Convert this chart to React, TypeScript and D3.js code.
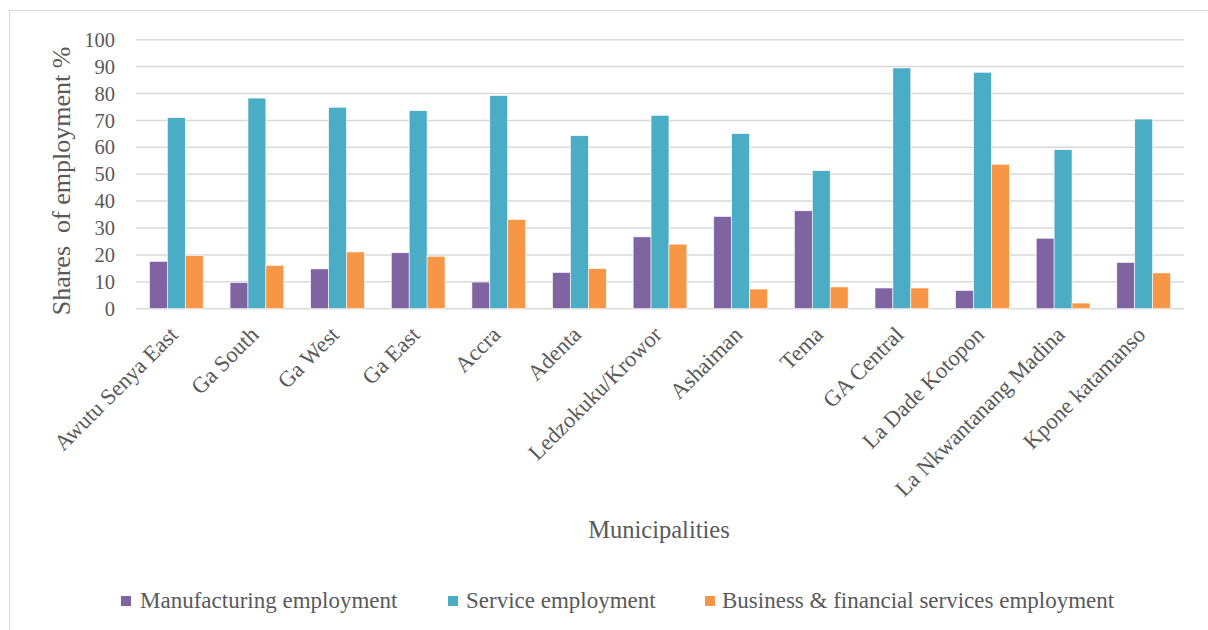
import React from "react";
import * as d3 from "d3";

const categories = [
  "Awutu Senya East", "Ga South", "Ga West", "Ga East", "Accra", "Adenta",
  "Ledzokuku/Krowor", "Ashaiman", "Tema", "GA Central", "La Dade Kotopon",
  "La Nkwantanang Madina", "Kpone katamanso",
];
const seriesNames = [
  "Manufacturing employment",
  "Service employment",
  "Business & financial services employment",
];
const manufacturing = [17.6, 9.7, 14.8, 20.8, 9.9, 13.5, 26.7, 34.3, 36.4, 7.7, 6.8, 26.2, 17.2];
const service = [71.0, 78.3, 74.9, 73.6, 79.2, 64.3, 71.9, 65.1, 51.3, 89.5, 87.9, 59.1, 70.5];
const business = [19.7, 16.1, 21.1, 19.5, 33.2, 14.9, 24.0, 7.3, 8.1, 7.7, 53.7, 2.1, 13.3];
const yTicks = [0, 10, 20, 30, 40, 50, 60, 70, 80, 90, 100];
const colors = ["#8064A2", "#4BACC6", "#F79646"];

const W = 1208, H = 630;
const M = { left: 136, right: 1184, top: 39.7, bottom: 308.7 };
const FONT = "Liberation Serif, DejaVu Serif, serif";
const TXT = "#595959";

export default function App() {
  const series = [manufacturing, service, business];
  const x = d3.scaleBand<string>().domain(categories).range([M.left, M.right]).padding(0);
  const groupW = x.bandwidth() / 1.5;
  const xi = d3.scaleBand<number>().domain([0, 1, 2]).range([0, groupW]).padding(0);
  const y = d3.scaleLinear().domain([0, 100]).range([M.bottom, M.top]);

  const legendItems = [
    { sq: 121, tx: 140 },
    { sq: 448, tx: 466 },
    { sq: 705, tx: 722 },
  ];

  return (
    <svg width={W} height={H} style={{ position: "absolute", left: 0, top: 0, background: "#fff", fontFamily: FONT }}>
      <rect x={0} y={0} width={W} height={H} fill="#fff" />
      <rect x={9.5} y={10.5} width={1300} height={800} fill="none" stroke="#D9D9D9" strokeWidth={1} />
      {yTicks.map((t) => (
        <g key={t}>
          <line x1={M.left} x2={M.right} y1={y(t)} y2={y(t)} stroke="#D9D9D9" strokeWidth={1.5} />
          <text x={115} y={y(t)} dy="0.35em" textAnchor="end" fontSize={20.5} fill={TXT}>{t}</text>
        </g>
      ))}
      {categories.map((c, i) => {
        const gx = (x(c) as number) + (x.bandwidth() - groupW) / 2;
        return (
          <g key={c}>
            {series.map((s, k) => (
              <rect key={k} x={gx + (xi(k) as number)} y={y(s[i])} width={xi.bandwidth()}
                height={y(0) - y(s[i])} fill={colors[k]} stroke="#fff" strokeWidth={0.6} />
            ))}
          </g>
        );
      })}
      {categories.map((c) => {
        const cx = (x(c) as number) + x.bandwidth() / 2;
        const tx = cx + 3;
        const ty = 336;
        return (
          <text key={c} x={tx} y={ty} textAnchor="end" fontSize={22.5} fill={TXT}
            transform={`rotate(-45 ${tx} ${ty})`}>{c}</text>
        );
      })}
      <text transform={`translate(70, 181) rotate(-90)`} textAnchor="middle" fontSize={26}
        fill={TXT} style={{ whiteSpace: "pre" }}>{"Shares  of employment %"}</text>
      <text x={659} y={538} textAnchor="middle" fontSize={24.5} fill={TXT}>Municipalities</text>
      {seriesNames.map((n, k) => (
        <g key={n}>
          <rect x={legendItems[k].sq} y={596} width={10} height={10} fill={colors[k]} />
          <text x={legendItems[k].tx} y={608} fontSize={23} fill={TXT}>{n}</text>
        </g>
      ))}
    </svg>
  );
}
